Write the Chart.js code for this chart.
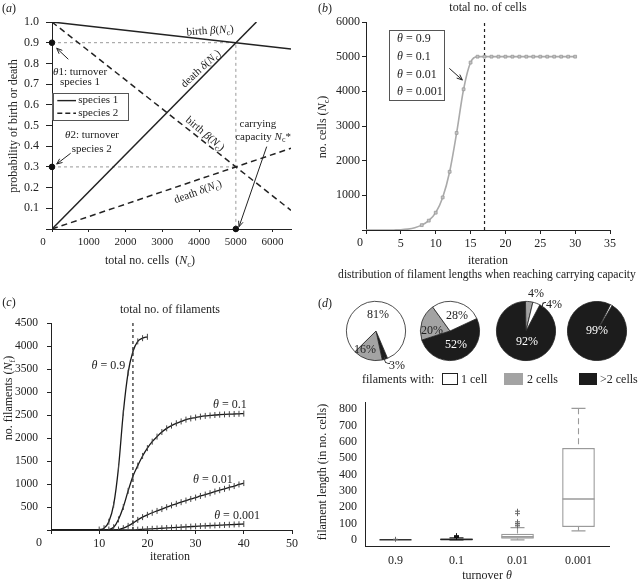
<!DOCTYPE html>
<html lang="en">
<head>
<meta charset="UTF-8">
<title>Filament growth model</title>
<script src="https://cdn.jsdelivr.net/npm/chart.js"></script>
<style>
  body { margin: 0; background: #fff; font-family: "Liberation Serif", "Times New Roman", serif; color: #222; }
  #fig { position: relative; width: 642px; height: 582px; overflow: hidden; }
  canvas { position: absolute; }
  .t { position: absolute; transform: translate(-50%, -50%); white-space: nowrap; font-size: 12px; line-height: 1; }
  .l { position: absolute; transform: translateY(-50%); white-space: nowrap; font-size: 12px; line-height: 1; }
  .rot { transform: translate(-50%, -50%) rotate(-90deg); }
  .w { color: #fff; }
  sub { font-size: 70%; vertical-align: -0.3em; line-height: 0; }
  .key { position: absolute; height: 12px; box-sizing: border-box; }
  .lead { position: absolute; border-color: #333; border-style: solid; border-width: 0; }
</style>
</head>
<body>
<div id="fig">
  <canvas id="ca" width="322" height="272" style="left:0;top:0"></canvas>
  <canvas id="cb" width="330" height="272" style="left:312px;top:0"></canvas>
  <canvas id="cc" width="322" height="292" style="left:0;top:290px"></canvas>
  <canvas id="cd" width="330" height="197" style="left:312px;top:385px"></canvas>
  <canvas id="p0" width="64" height="64" style="left:344px;top:299px"></canvas>
  <canvas id="p1" width="64" height="64" style="left:418px;top:299px"></canvas>
  <canvas id="p2" width="64" height="64" style="left:494px;top:299px"></canvas>
  <canvas id="p3" width="64" height="64" style="left:565px;top:299px"></canvas>

  <!-- panel letters and titles -->
  <div class="t" style="left:9px;top:8px">(<i>a</i>)</div>
  <div class="t" style="left:325px;top:8px">(<i>b</i>)</div>
  <div class="t" style="left:9px;top:302px">(<i>c</i>)</div>
  <div class="t" style="left:325px;top:303px">(<i>d</i>)</div>

  <div class="t rot" style="left:13px;top:126px">probability of birth or death</div>
  <div class="t" style="left:150px;top:260px">total no. cells&nbsp; (<i>N</i><sub>c</sub>)</div>

  <div class="t" style="left:488px;top:7px">total no. of cells</div>
  <div class="t rot" style="left:322px;top:127px">no. cells (<i>N</i><sub>c</sub>)</div>
  <div class="t" style="left:488px;top:260px">iteration</div>

  <div class="t" style="left:170px;top:309px">total no. of filaments</div>
  <div class="t rot" style="left:8px;top:398px">no. filaments (<i>N</i><sub>f</sub>)</div>
  <div class="t" style="left:170px;top:556px">iteration</div>

  <div class="t" style="left:487px;top:275px;font-size:11.6px">distribution of filament lengths when reaching carrying capacity</div>
  <div class="t rot" style="left:322px;top:472px">filament length (in no. cells)</div>
  <div class="t" style="left:487px;top:575px">turnover <i>θ</i></div>

  <!-- pie labels -->
  <div class="t" style="left:378px;top:314px">81%</div>
  <div class="t" style="left:365px;top:349px">16%</div>
  <div class="t" style="left:397px;top:365px">3%</div>
  <div class="lead" style="left:384px;top:357px;width:5px;height:6px;border-left-width:1px;border-bottom-width:1px;border-bottom-left-radius:5px"></div>
  <div class="t" style="left:457px;top:315px">28%</div>
  <div class="t" style="left:432px;top:330px">20%</div>
  <div class="t w" style="left:456px;top:344px">52%</div>
  <div class="t" style="left:536px;top:293px">4%</div>
  <div class="t" style="left:554px;top:304px">4%</div>
  <div class="lead" style="left:542px;top:302px;width:3px;height:5px;border-left-width:1px;border-top-width:1px;border-top-left-radius:3px"></div>
  <div class="t w" style="left:527px;top:341px">92%</div>
  <div class="t w" style="left:597px;top:330px">99%</div>

  <!-- pie key -->
  <div class="l" style="left:362px;top:379px">filaments with:</div>
  <div class="key" style="left:442px;top:373px;width:16px;background:#fff;border:1px solid #222"></div>
  <div class="l" style="left:461px;top:379px">1 cell</div>
  <div class="key" style="left:504px;top:373px;width:19px;background:#a3a3a3"></div>
  <div class="l" style="left:527px;top:379px">2 cells</div>
  <div class="key" style="left:579px;top:373px;width:18px;background:#1c1c1c"></div>
  <div class="l" style="left:600px;top:379px">&gt;2 cells</div>
</div>

<script>
// ---- panel (a): birth / death probabilities vs total no. cells
const aBirth1 = [[0, 1.0], [6500, 0.87]];
const aDeath1 = [[0, 0], [5560, 1.0]];
const aBirth2 = [[0, 1.0], [6500, 0.09]];
const aDeath2 = [[0, 0], [6500, 0.39]];
const aGuide1 = [[0, 0.9], [5000, 0.9], [5000, 0]];
const aGuide2 = [[0, 0.3], [5000, 0.3]];
const aDots = [[0, 0.9], [0, 0.3], [5000, 0]];
const aXTicks = [0, 1000, 2000, 3000, 4000, 5000, 6000];
const aYTicks = [0, 0.1, 0.2, 0.3, 0.4, 0.5, 0.6, 0.7, 0.8, 0.9, 1.0];

// ---- panel (b): total no. of cells
const bIter = [0, 1, 2, 3, 4, 5, 6, 7, 8, 9, 10, 11, 12, 13, 14, 15, 16, 17, 18, 19, 20,
  21, 22, 23, 24, 25, 26, 27, 28, 29, 30];
const bCells = [0, 0, 0, 0, 2, 6, 25, 65, 140, 270, 500, 940, 1680, 2800, 4060, 4830, 5000, 5000, 5000, 5000, 5000,
  5000, 5000, 5000, 5000, 5000, 5000, 5000, 5000, 5000, 5000];
const bCarry = 17;
const bXTicks = [0, 5, 10, 15, 20, 25, 30, 35];
const bYTicks = [0, 1000, 2000, 3000, 4000, 5000, 6000];

// ---- panel (c): total no. of filaments
const cIter = [0, 1, 2, 3, 4, 5, 6, 7, 8, 9, 10, 11, 12, 13, 14, 15, 16, 17, 18, 19, 20,
  21, 22, 23, 24, 25, 26, 27, 28, 29, 30, 31, 32, 33, 34, 35, 36, 37, 38, 39, 40];
const cTheta09 = [0, 0, 0, 0, 0, 0, 0, 0, 0, 0, 10, 40, 180, 550, 1350, 2550, 3420, 3880, 4100, 4170, 4200];
const cTheta01 = [0, 0, 0, 0, 0, 0, 0, 0, 0, 0, 0, 0, 10, 60, 230, 500, 850, 1170, 1400, 1610, 1780,
  1920, 2030, 2130, 2210, 2270, 2320, 2360, 2400, 2425, 2445, 2465, 2480, 2490, 2500, 2507, 2513, 2518, 2522, 2526, 2530];
const cTheta001 = [0, 0, 0, 0, 0, 0, 0, 0, 0, 0, 0, 0, 0, 0, 10, 40, 90, 150, 220, 280, 330,
  375, 415, 455, 495, 535, 570, 605, 640, 675, 705, 740, 770, 800, 835, 865, 895, 925, 955, 990, 1020];
const cTheta0001 = [0, 0, 0, 0, 0, 0, 0, 0, 0, 0, 0, 0, 0, 0, 0, 0, 0, 3, 8, 14, 20,
  26, 32, 38, 44, 50, 56, 62, 68, 74, 80, 85, 90, 95, 100, 105, 110, 115, 120, 125, 130];
const cXTicks = [0, 10, 20, 30, 40, 50];
const cYTicks = [0, 500, 1000, 1500, 2000, 2500, 3000, 3500, 4000, 4500];

// ---- panel (d): pies (1 cell, 2 cells, >2 cells) and box plot of filament length
const pieCats = ['1 cell', '2 cells', '>2 cells'];
const pieShares = [[81, 16, 3], [28, 20, 52], [4, 4, 92], [1, 0, 99]];
const boxCats = ['0.9', '0.1', '0.01', '0.001'];
const boxMin = [0, 0, 0, 55];
const boxQ1 = [0, 0, 8, 80];
const boxMed = [0, 2, 18, 250];
const boxQ3 = [0, 6, 35, 560];
const boxMax = [0, 12, 75, 805];
const boxOut = [[3], [14, 16, 18, 20, 22, 25], [85, 90, 100, 110, 160, 175], []];
const dYTicks = [0, 100, 200, 300, 400, 500, 600, 700, 800];

const FONT = '"Liberation Serif", "Times New Roman", serif';
Chart.defaults.font.family = FONT;
Chart.defaults.font.size = 11;
Chart.defaults.color = '#222';
Chart.defaults.animation = false;
Chart.defaults.plugins.legend.display = false;
Chart.defaults.plugins.tooltip.enabled = false;

const pts = arr => arr.map(([x, y]) => ({ x, y }));
const series = (xs, ys) => ys.map((y, i) => ({ x: xs[i], y }));

// tiny markup: ~ toggles italic, _ makes next char a subscript
function parseRich(s) {
  const parts = [];
  let it = false;
  for (let k = 0; k < s.length; k++) {
    const ch = s[k];
    if (ch === '~') { it = !it; continue; }
    if (ch === '_') { parts.push({ t: s[++k], it: false, sub: true }); continue; }
    const last = parts[parts.length - 1];
    if (last && last.it === it && !last.sub) last.t += ch;
    else parts.push({ t: ch, it, sub: false });
  }
  return parts;
}

function drawRich(ctx, s, size, align) {
  const parts = parseRich(s);
  const fnt = p => (p.it ? 'italic ' : '') + (p.sub ? size * 0.72 : size) + 'px ' + FONT;
  let w = 0;
  parts.forEach(p => { ctx.font = fnt(p); p.w = ctx.measureText(p.t).width; w += p.w; });
  let x = align === 'left' ? 0 : align === 'right' ? -w : -w / 2;
  ctx.textAlign = 'left';
  ctx.textBaseline = 'middle';
  parts.forEach(p => {
    ctx.font = fnt(p);
    ctx.fillText(p.t, x, p.sub ? size * 0.3 : 0);
    x += p.w;
  });
}

// annotations placed in data coordinates
const notes = {
  id: 'notes',
  afterDatasetsDraw(chart, args, o) {
    const { ctx } = chart;
    const sx = chart.scales.x, sy = chart.scales.y;
    const P = (x, y) => [sx.getPixelForValue(x), sy.getPixelForValue(y)];
    ctx.save();
    (o.boxes || []).forEach(b => {
      const [x, y] = P(b.x, b.y);
      ctx.fillStyle = '#fff';
      ctx.fillRect(x, y, b.w, b.h);
      ctx.strokeStyle = '#555';
      ctx.lineWidth = 1;
      ctx.strokeRect(Math.round(x) + 0.5, Math.round(y) + 0.5, b.w, b.h);
      b.rows.forEach((r, i) => {
        const ry = y + b.y0 + i * b.step;
        if (b.line) {
          ctx.strokeStyle = '#222';
          ctx.lineWidth = 1.4;
          ctx.setLineDash(r.dash || []);
          ctx.beginPath();
          ctx.moveTo(x + b.line[0], ry);
          ctx.lineTo(x + b.line[1], ry);
          ctx.stroke();
          ctx.setLineDash([]);
        }
        ctx.save();
        ctx.translate(x + b.tx, ry);
        ctx.fillStyle = '#222';
        drawRich(ctx, r.s, b.size || 12, 'left');
        ctx.restore();
      });
    });
    (o.arrows || []).forEach(a => {
      const [x1, y1] = P(a.x1, a.y1);
      const [x2, y2] = P(a.x2, a.y2);
      const ang = Math.atan2(y2 - y1, x2 - x1);
      ctx.strokeStyle = '#222';
      ctx.lineWidth = 1;
      ctx.beginPath();
      ctx.moveTo(x1, y1);
      ctx.lineTo(x2, y2);
      ctx.moveTo(x2 - 6 * Math.cos(ang - 0.4), y2 - 6 * Math.sin(ang - 0.4));
      ctx.lineTo(x2, y2);
      ctx.lineTo(x2 - 6 * Math.cos(ang + 0.4), y2 - 6 * Math.sin(ang + 0.4));
      ctx.stroke();
    });
    (o.texts || []).forEach(t => {
      const [x, y] = P(t.x, t.y);
      ctx.save();
      ctx.translate(x + (t.dx || 0), y + (t.dy || 0));
      ctx.rotate((t.rot || 0) * Math.PI / 180);
      ctx.fillStyle = '#222';
      drawRich(ctx, t.s, t.size || 11, t.align || 'center');
      ctx.restore();
    });
    ctx.restore();
  }
};

function axis(min, max, list, size, o) {
  o = o || {};
  return {
    type: 'linear', min, max,
    afterBuildTicks(s) { s.ticks = list.map(v => ({ value: v })); },
    ticks: {
      autoSkip: false, maxRotation: 0, padding: o.pad == null ? 3 : o.pad,
      color: '#222', font: { size: o.fs || 11 }, callback: o.cb || (v => v === 0 ? '' : v)
    },
    grid: { display: o.ticks !== false, drawOnChartArea: false, drawTicks: o.ticks !== false,
      tickLength: o.tl || 4, color: '#222' },
    border: { display: true, color: '#222', width: 1 },
    afterFit(s) { if (s.isHorizontal()) s.height = size; else s.width = size; }
  };
}

const base = { responsive: false, devicePixelRatio: 1, animation: false };
const lineStyle = (data, color, width, dash) => ({
  data, showLine: true, borderColor: color, borderWidth: width, borderDash: dash || [], pointRadius: 0
});

// ---------- (a)
new Chart(document.getElementById('ca'), {
  type: 'scatter',
  data: {
    datasets: [
      { data: pts(aDots), pointRadius: 2.8, backgroundColor: '#111', borderColor: '#111', clip: false },
      lineStyle(pts(aBirth1), '#222', 1.5),
      lineStyle(pts(aDeath1), '#222', 1.5),
      lineStyle(pts(aBirth2), '#222', 1.5, [6, 4]),
      lineStyle(pts(aDeath2), '#222', 1.5, [6, 4]),
      lineStyle(pts(aGuide1), '#999', 1, [3, 3]),
      lineStyle(pts(aGuide2), '#999', 1, [3, 3])
    ]
  },
  options: Object.assign({}, base, {
    layout: { padding: { top: 22, right: 31, left: 0, bottom: 0 } },
    scales: {
      x: axis(0, 6500, aXTicks, 43, { tl: 3, pad: 4 }),
      y: axis(0, 1, aYTicks, 52, { tl: 6, pad: 7, fs: 12, cb: v => v === 0 ? '' : v.toFixed(1) })
    },
    plugins: {
      notes: {
        boxes: [{ x: 19, y: 0.656, w: 75, h: 27, y0: 7.4, step: 12.6, line: [4.6, 23.3], tx: 25.6, size: 11,
          rows: [{ s: 'species 1' }, { s: 'species 2', dash: [5, 3] }] }],
        arrows: [
          { x1: 444, y1: 0.82, x2: 128, y2: 0.873 },
          { x1: 508, y1: 0.366, x2: 128, y2: 0.314 },
          { x1: 5839, y1: 0.398, x2: 5086, y2: 0.011 }
        ],
        texts: [
          { x: 4300, y: 0.957, s: 'birth ~β~(~N~_c)', rot: -4 },
          { x: 4050, y: 0.773, s: 'death ~δ~(~N~_c)', rot: -43 },
          { x: 4160, y: 0.459, s: 'birth ~β~(~N~_c)', rot: 40 },
          { x: 3970, y: 0.179, s: 'death ~δ~(~N~_c)', rot: -20 },
          { x: 30, y: 0.758, s: '~θ~1: turnover', align: 'left' },
          { x: 218, y: 0.71, s: 'species 1', align: 'left' },
          { x: 354, y: 0.454, s: '~θ~2: turnover', align: 'left' },
          { x: 535, y: 0.385, s: 'species 2', align: 'left' },
          { x: 5600, y: 0.507, s: 'carrying' },
          { x: 5740, y: 0.444, s: 'capacity ~N~_c*' },
          { x: 0, y: 0, dx: -9, dy: 13, s: '0' }
        ]
      }
    }
  }),
  plugins: [notes]
});

// ---------- (b)
new Chart(document.getElementById('cb'), {
  type: 'scatter',
  data: {
    datasets: [
      {
        data: series(bIter, bCells), showLine: true, borderColor: '#aaa', borderWidth: 1.6,
        cubicInterpolationMode: 'monotone', pointStyle: 'rect',
        pointRadius: c => (c.raw && c.raw.y > 100 ? 2 : 0),
        pointBackgroundColor: '#c4c4c4', pointBorderColor: '#999', pointBorderWidth: 0.8
      },
      lineStyle([{ x: bCarry, y: 0 }, { x: bCarry, y: 6000 }], '#222', 1.2, [3, 3])
    ]
  },
  options: Object.assign({}, base, {
    layout: { padding: { top: 22, right: 32, left: 0, bottom: 0 } },
    scales: {
      x: axis(0, 35, bXTicks, 42, { fs: 12 }),
      y: axis(0, 6000, bYTicks, 54, { fs: 12, pad: 2 })
    },
    plugins: {
      notes: {
        boxes: [{ x: 3.3, y: 5769, w: 55, h: 70, y0: 9, step: 17.7, tx: 8,
          rows: [{ s: '~θ~ = 0.9' }, { s: '~θ~ = 0.1' }, { s: '~θ~ = 0.01' }, { s: '~θ~ = 0.001' }] }],
        arrows: [{ x1: 11.95, y1: 4664, x2: 13.82, y2: 4327 }],
        texts: [{ x: 0, y: 0, dx: -6, dy: 13, s: '0', size: 12 }]
      }
    }
  }),
  plugins: [notes]
});

// ---------- (c)
const curve = ys => ({
  data: series(cIter, ys), showLine: true, borderColor: '#1a1a1a', borderWidth: 1.3,
  cubicInterpolationMode: 'monotone', pointStyle: 'line', rotation: 90,
  pointRadius: c => (c.raw && c.raw.y > 0 ? 3 : 0), pointBorderColor: '#444', pointBorderWidth: 1
});
new Chart(document.getElementById('cc'), {
  type: 'scatter',
  data: {
    datasets: [
      curve(cTheta09), curve(cTheta01), curve(cTheta001), curve(cTheta0001),
      lineStyle([{ x: bCarry, y: 0 }, { x: bCarry, y: 4500 }], '#222', 1.2, [3, 3])
    ]
  },
  options: Object.assign({}, base, {
    layout: { padding: { top: 33, right: 30, left: 0, bottom: 0 } },
    scales: {
      x: axis(0, 50, cXTicks, 52, { fs: 12 }),
      y: axis(0, 4500, cYTicks, 51, { pad: 9, fs: 11.5 })
    },
    plugins: {
      notes: {
        texts: [
          { x: 11.9, y: 3565, s: '~θ~ = 0.9', size: 12 },
          { x: 37.1, y: 2717, s: '~θ~ = 0.1', size: 12 },
          { x: 33.6, y: 1087, s: '~θ~ = 0.01', size: 12 },
          { x: 38.6, y: 304, s: '~θ~ = 0.001', size: 12 },
          { x: 0, y: 0, dx: -12, dy: 13, s: '0', size: 12 }
        ]
      }
    }
  }),
  plugins: [notes]
});

// ---------- (d) pies, drawn clockwise as >2 cells, 2 cells, 1 cell
const pieRotation = [157, 65, 27.8, 30.6];
const pieColors = ['#1c1c1c', '#a3a3a3', '#ffffff'];
pieShares.forEach((v, i) => {
  new Chart(document.getElementById('p' + i), {
    type: 'pie',
    data: {
      labels: [pieCats[2], pieCats[1], pieCats[0]],
      datasets: [{ data: [v[2], v[1], v[0]], backgroundColor: pieColors, borderColor: '#222', borderWidth: 0.8 }]
    },
    options: Object.assign({}, base, { rotation: pieRotation[i], layout: { padding: 2 } })
  });
});

// ---------- (d) box plot
const boxColors = ['#333', '#222', '#9a9a9a', '#9a9a9a'];
const boxSets = [{
  type: 'bar',
  data: boxCats.map((c, i) => ({ x: i + 1, y: [boxQ1[i], boxQ3[i]] })),
  backgroundColor: boxCats.map((c, i) => (i === 1 ? '#333' : '#fff')),
  borderColor: boxColors, borderWidth: 1.2, borderSkipped: false, barThickness: 32
}];
boxCats.forEach((c, i) => {
  const x = i + 1;
  boxSets.push({
    type: 'scatter', data: [{ x, y: boxMed[i] }], pointStyle: 'line', pointRadius: 16,
    pointBorderColor: boxColors[i], pointBorderWidth: 1.6
  });
  if (boxMax[i] > boxQ3[i] || boxMin[i] < boxQ1[i]) {
    boxSets.push({
      type: 'scatter', showLine: true, spanGaps: false, borderColor: boxColors[i], borderWidth: 1.1,
      borderDash: [6, 4], pointRadius: 0,
      data: [{ x, y: boxMax[i] }, { x, y: boxQ3[i] }, { x, y: null }, { x, y: boxQ1[i] }, { x, y: boxMin[i] }]
    });
    boxSets.push({
      type: 'scatter', data: [{ x, y: boxMax[i] }, { x, y: boxMin[i] }], pointStyle: 'line', pointRadius: 7,
      pointBorderColor: boxColors[i], pointBorderWidth: 1.2
    });
  }
  boxSets.push({
    type: 'scatter', data: boxOut[i].map(y => ({ x, y })), pointStyle: 'cross', pointRadius: 2.5,
    pointBorderColor: i === 1 ? '#111' : '#666', pointBorderWidth: 1
  });
});
boxSets.reverse();

new Chart(document.getElementById('cd'), {
  type: 'scatter',
  data: { datasets: boxSets },
  options: Object.assign({}, base, {
    layout: { padding: { top: 8, right: 33, left: 0, bottom: 0 } },
    scales: {
      x: Object.assign(axis(0.5, 4.5, [1, 2, 3, 4], 36, { ticks: false, pad: 8, fs: 12, cb: v => boxCats[v - 1] || '' }),
        { offset: false }),
      y: axis(-38, 840, dYTicks, 53, { ticks: false, pad: 8, fs: 12, cb: v => v })
    }
  })
});
</script>
</body>
</html>
